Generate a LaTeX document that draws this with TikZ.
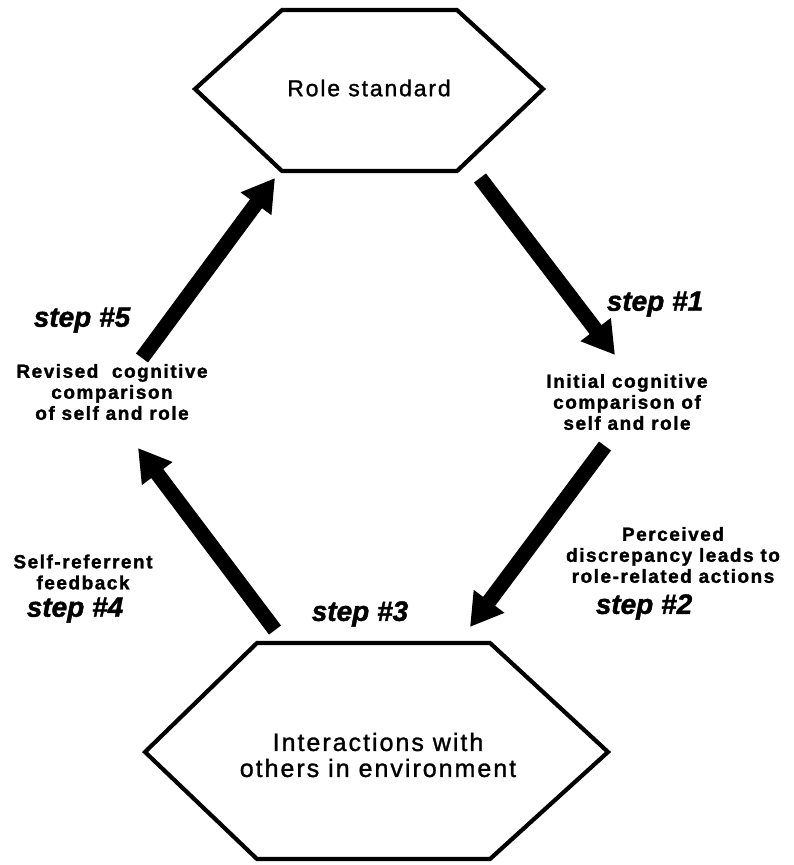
\documentclass[tikz,border=0pt]{standalone}
\usepackage{fontspec}
\setmainfont{Liberation Sans}
\newfontfamily\boxfont{Liberation Sans}[LetterSpace=8, FakeBold=1.2]
\newfontfamily\lblfont{Liberation Sans Bold}[LetterSpace=8, FakeBold=1.5]
\newfontfamily\stepfont{Liberation Sans Bold Italic}[FakeBold=1.5]
\usetikzlibrary{arrows.meta}
\begin{document}
\begin{tikzpicture}[x=1pt,y=-1pt,
  hexline/.style={line width=4.2pt, line join=miter},
  flow/.style={line width=15pt, -{Triangle[length=32pt,width=36pt]}},
  boxtext/.style={font=\boxfont\fontsize{23}{26}\selectfont, align=center, inner sep=0pt},
  lbl/.style={font=\lblfont\fontsize{19}{21}\selectfont, align=center, inner sep=0pt},
  steplbl/.style={font=\stepfont\fontsize{28}{30}\selectfont, inner sep=0pt}]
\useasboundingbox (0,0) rectangle (793,865);

% hexagons
\draw[hexline] (195,89) -- (282,10) -- (457,10) -- (543,89) -- (457,171) -- (282,171) -- cycle;
\node[boxtext] (rs) at (369,88) {Role standard};

\draw[hexline] (145,752) -- (257,643) -- (490,643) -- (608,752) -- (490,859) -- (257,859) -- cycle;
\node[boxtext, font=\boxfont\fontsize{25}{26}\selectfont] (ie) at (378,755) {Interactions with\\others in environment};

% labels
\node[lbl] (init) at (627,402) {Initial cognitive\\comparison of\\self and role};
\node[lbl] (rev) at (112,392) {Revised\ \ cognitive\\comparison\\of self and role};
\node[lbl] (self) at (83,572) {Self-referrent\\feedback};
\node[lbl] (perc) at (673,555) {Perceived\\discrepancy leads to\\role-related actions};

\node[steplbl] (s1) at (655,304) {step \#1};
\node[steplbl] (s2) at (644,607) {step \#2};
\node[steplbl] (s3) at (360,614) {step \#3};
\node[steplbl] (s4) at (75,610) {step \#4};
\node[steplbl] (s5) at (82,320) {step \#5};

% arrows
\coordinate (a1s) at (480,178); \coordinate (a1e) at (615,355);
\coordinate (a2s) at (605,446); \coordinate (a2e) at (470,627);
\coordinate (a4s) at (275,630); \coordinate (a4e) at (138,448);
\coordinate (a5s) at (142,358); \coordinate (a5e) at (275,178);
\draw[flow] (a1s) -- (a1e);
\draw[flow] (a2s) -- (a2e);
\draw[flow] (a4s) -- (a4e);
\draw[flow] (a5s) -- (a5e);
\end{tikzpicture}
\end{document}
